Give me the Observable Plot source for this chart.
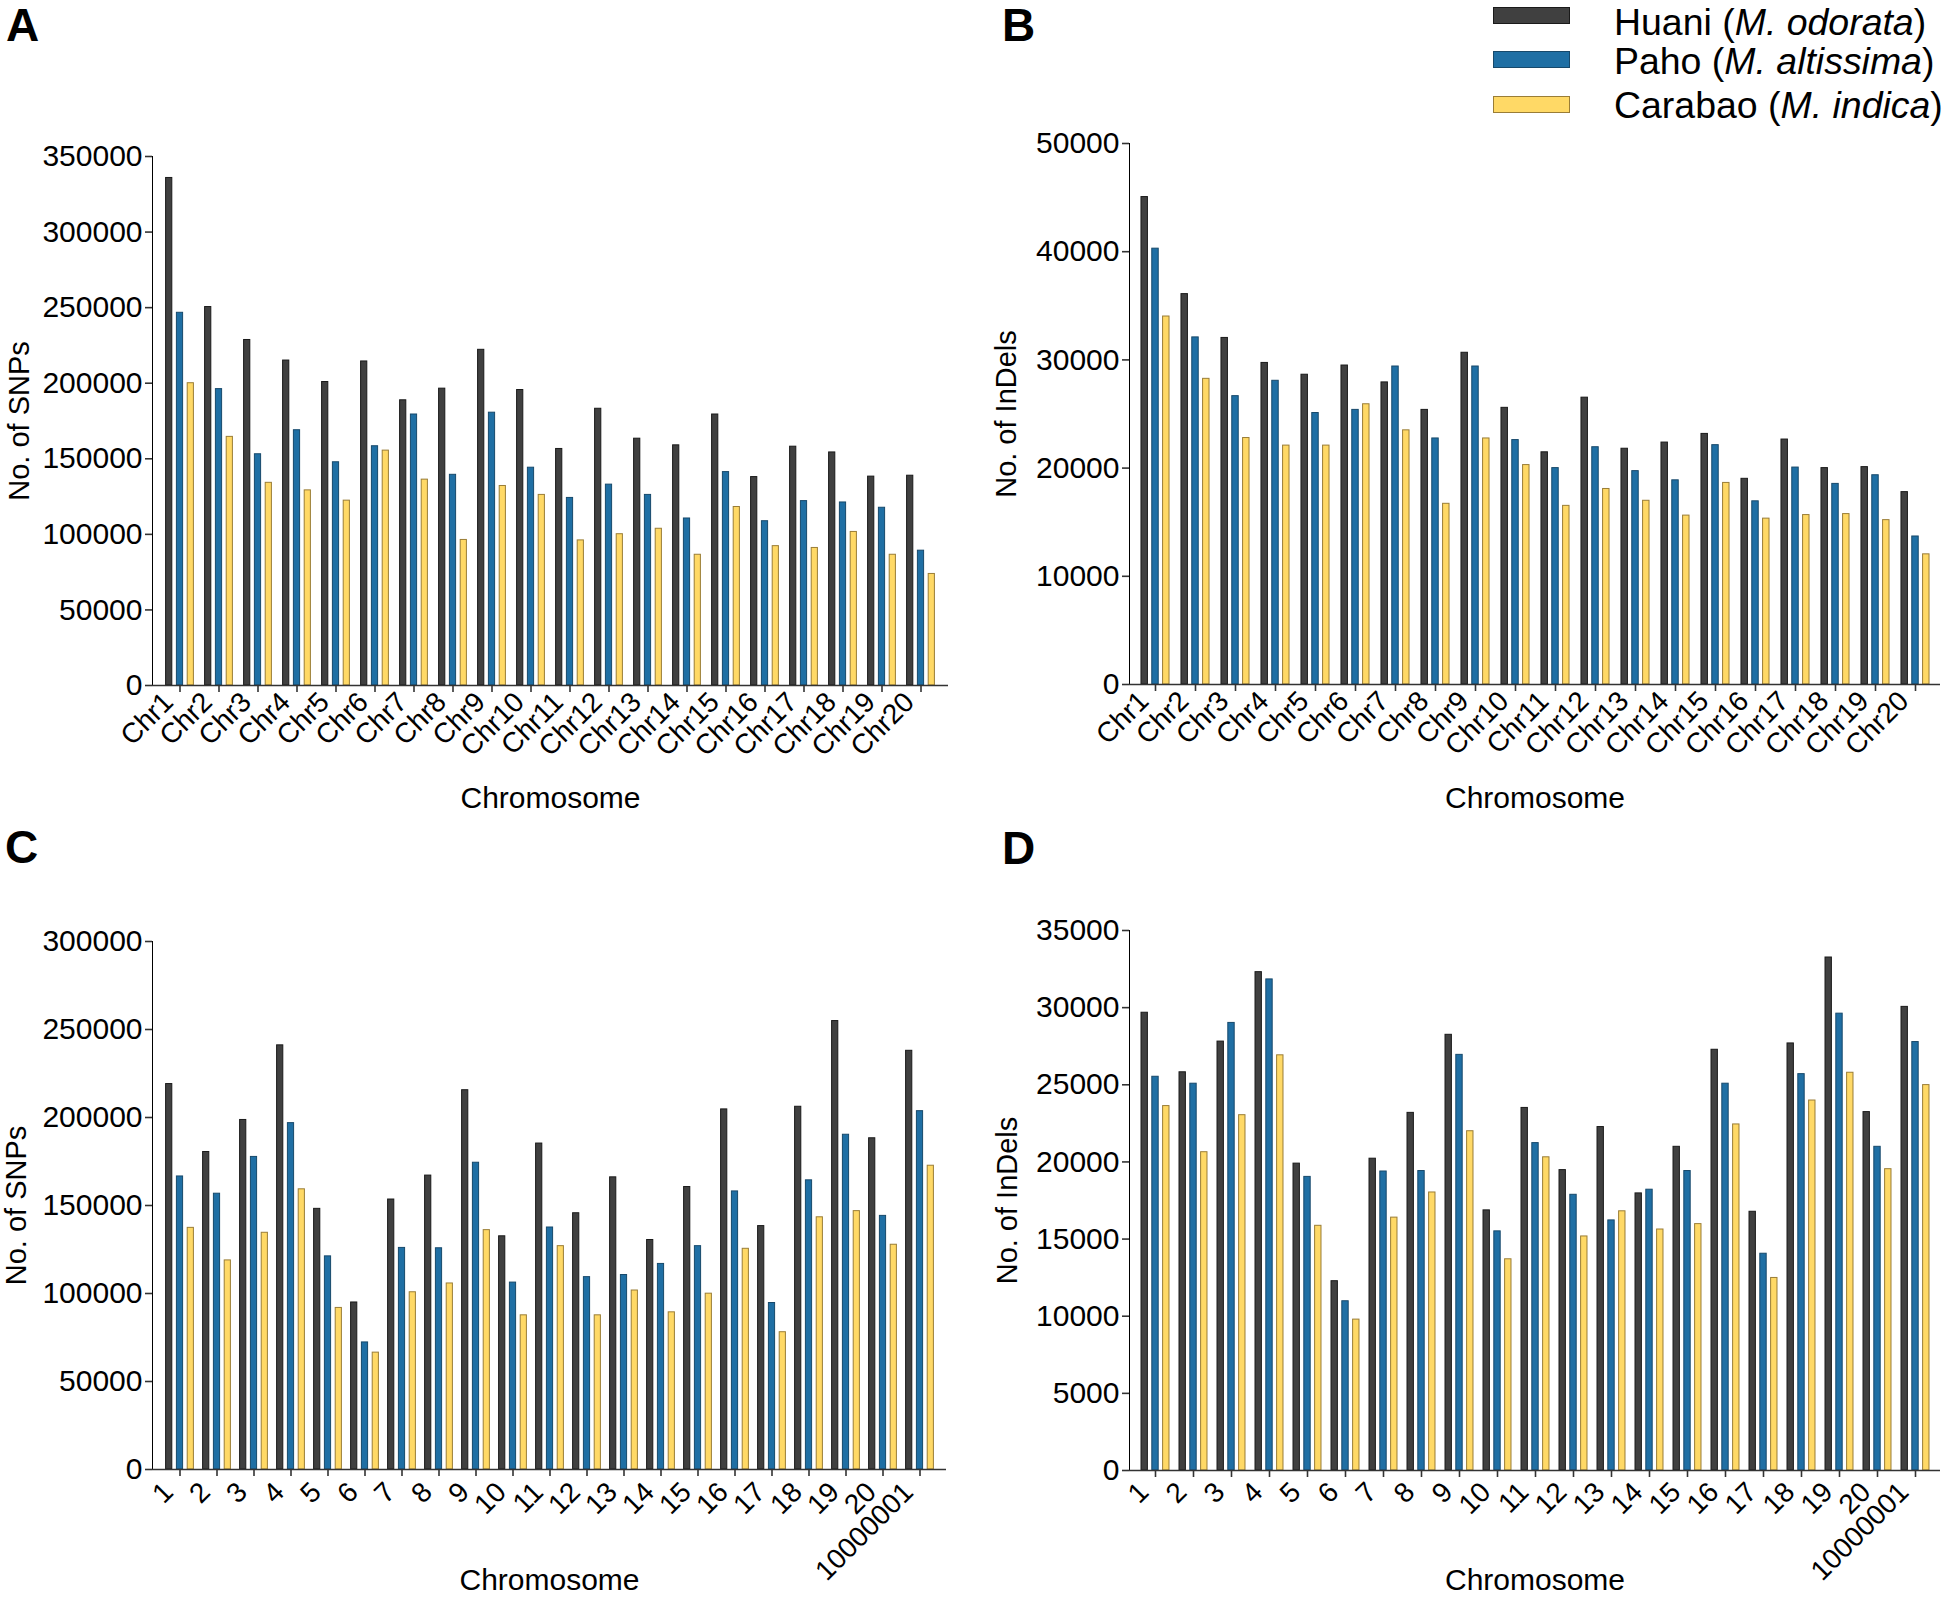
<!DOCTYPE html>
<html>
<head>
<meta charset="utf-8">
<script src="https://cdn.jsdelivr.net/npm/d3@7"></script>
<script src="https://cdn.jsdelivr.net/npm/@observablehq/plot@0.6"></script>
<style>
  html, body { margin: 0; padding: 0; background: #fff; }
  #page { position: relative; width: 1944px; height: 1597px; background: #fff; overflow: hidden;
          font-family: "Liberation Sans", Arial, Helvetica, sans-serif; color: #000; }
  .panel { position: absolute; }
  .letter { position: absolute; font-weight: bold; font-size: 46px; line-height: 1; }
  .lg-swatch { position: absolute; width: 75px; height: 15px; border: 1.5px solid; }
  .lg-text { position: absolute; font-size: 36px; line-height: 1.2; white-space: nowrap;
             transform: scaleX(1.04); transform-origin: left center; }
  .panel svg g[aria-label$="axis tick"] { stroke: #333; stroke-width: 1.6px; }
  .panel svg g[aria-label="frame"] { stroke: #333; stroke-width: 1.6px; }
  .panel svg g[aria-label="y-axis label"] text { font-size: 29px; }
</style>
</head>
<body>
<div id="page"></div>
<script>
// ---------- data ----------
const chrAB = ["Chr1","Chr2","Chr3","Chr4","Chr5","Chr6","Chr7","Chr8","Chr9","Chr10",
               "Chr11","Chr12","Chr13","Chr14","Chr15","Chr16","Chr17","Chr18","Chr19","Chr20"];
const chrCD = ["1","2","3","4","5","6","7","8","9","10","11","12","13","14","15","16","17","18","19","20","10000001"];

const series  = ["Huani", "Paho", "Carabao"];
const species = ["M. odorata", "M. altissima", "M. indica"];
const fills   = ["#404040", "#1f6fa4", "#ffd966"];
const strokes = ["#1a1a1a", "#17496b", "#9a7d36"];

// Panel A: SNPs per chromosome
const snpA_huani   = [335800,250400,228600,215000,200800,214400,188700,196400,222100,195500,156500,183100,163300,158900,179300,137900,158000,154200,138200,138800];
const snpA_paho    = [246600,196100,153000,168900,147700,158300,179300,139400,180500,144100,124100,132900,126100,110500,141200,108700,122000,121100,117600,89200];
const snpA_carabao = [200000,164500,134100,129100,122300,155400,136200,96300,132000,126100,96000,100100,103700,86500,118100,92200,91000,101600,86500,73800];

// Panel B: InDels per chromosome
const indelB_huani   = [45050,36080,32030,29720,28630,29480,27920,25380,30660,25570,21460,26510,21790,22360,23160,19010,22640,20000,20090,17780];
const indelB_paho    = [40280,32080,26650,28070,25090,25380,29390,22740,29390,22590,20000,21930,19720,18870,22120,16930,20050,18540,19340,13680];
const indelB_carabao = [34010,28250,22780,22080,22080,25900,23490,16700,22740,20280,16510,18070,16980,15610,18630,15330,15660,15750,15190,12030];

// Panel C: SNPs per chromosome
const snpC_huani   = [219000,180400,198600,241000,148100,94900,153400,167000,215500,132500,185200,145600,166000,130400,160500,204600,138300,206100,254800,188200,237900];
const snpC_paho    = [166500,156700,177600,196800,121100,72200,125900,125700,174300,106200,137500,109300,110500,116800,126900,158000,94600,164300,190200,144100,203600];
const snpC_carabao = [137300,118800,134500,159200,91800,66400,100700,105700,136000,87600,126900,87600,101700,89300,99900,125400,78000,143300,146800,127700,172600];

// Panel D: InDels per chromosome
const indelD_huani   = [29670,25810,27800,32300,19890,12270,20210,23180,28240,16860,23500,19470,22260,17960,20980,27270,16770,27680,33250,23230,30050];
const indelD_paho    = [25520,25070,29010,31830,19030,10970,19380,19410,26940,15500,21220,17870,16210,18200,19410,25070,14050,25690,29610,20980,27770];
const indelD_carabao = [23620,20630,23030,26910,15860,9780,16390,18020,21990,13690,20300,15170,16800,15620,15970,22430,12480,23980,25780,19530,24980];

// Axis ticks
const ticksA = [0,50000,100000,150000,200000,250000,300000,350000];
const ticksB = [0,10000,20000,30000,40000,50000];
const ticksC = [0,50000,100000,150000,200000,250000,300000];
const ticksD = [0,5000,10000,15000,20000,25000,30000,35000];

const xTitle = "Chromosome";

// ---------- drawing ----------
const page = document.getElementById("page");
const axisColor = "#333";

function panel(cfg) {
  const {cats, vals, ticks, yLabel, left, top, width, height, mL, mR, mT, mB, yOff, xOff, lblDy} = cfg;
  const rows = cats.map((c, i) => ({chr: c, v0: vals[0][i], v1: vals[1][i], v2: vals[2][i]}));
  const bw = (width - mL - mR) / cats.length;
  const barW = 7, gap = 10.8;
  const bars = series.map((s, k) => {
    const o = (k - 1) * gap;
    return Plot.barY(rows, {
      x: "chr", y: "v" + k,
      fill: fills[k], stroke: strokes[k], strokeWidth: 1,
      insetLeft: bw / 2 + o - barW / 2,
      insetRight: bw / 2 - o - barW / 2
    });
  });
  const svg = Plot.plot({
    width, height,
    marginLeft: mL, marginRight: mR, marginTop: mT, marginBottom: mB,
    style: {fontFamily: '"Liberation Sans", Arial, Helvetica, sans-serif', fontSize: "30px",
            background: "transparent", color: "#000", overflow: "visible"},
    x: {domain: cats, padding: 0},
    y: {domain: [0, ticks[ticks.length - 1]], ticks: ticks, tickFormat: d => String(d),
        tickSize: 7, tickPadding: 3, line: true,
        label: yLabel, labelAnchor: "center", labelOffset: yOff, labelArrow: "none"},
    marks: [
      ...bars,
      Plot.ruleY([0], {stroke: axisColor, strokeWidth: 1.6}),
      // tick marks only
      Plot.axisX({tickSize: 7, fill: "none", stroke: axisColor, strokeWidth: 1.6, label: null}),
      // rotated tick labels only
      Plot.axisX({tickSize: 0, tickPadding: 10, tickRotate: -45, fontSize: 28, dx: -11.5, dy: lblDy, label: null}),
      // axis title only
      Plot.axisX({tickSize: 0, ticks: [], label: xTitle, labelAnchor: "center", labelOffset: xOff, labelArrow: "none"})
    ]
  });
  const div = document.createElement("div");
  div.className = "panel";
  div.style.left = left + "px";
  div.style.top = top + "px";
  div.appendChild(svg);
  page.appendChild(div);
}

panel({cats: chrAB, vals: [snpA_huani, snpA_paho, snpA_carabao], ticks: ticksA, yLabel: "No. of SNPs",
       left: 0, top: 100, width: 960, height: 720, mL: 152, mR: 12, mT: 56, mB: 135, yOff: 144, xOff: 122, lblDy: 2});
panel({cats: chrAB, vals: [indelB_huani, indelB_paho, indelB_carabao], ticks: ticksB, yLabel: "No. of InDels",
       left: 960, top: 100, width: 984, height: 720, mL: 169, mR: 4, mT: 43, mB: 136, yOff: 134, xOff: 123, lblDy: 2});
panel({cats: chrCD, vals: [snpC_huani, snpC_paho, snpC_carabao], ticks: ticksC, yLabel: "No. of SNPs",
       left: 0, top: 880, width: 960, height: 717, mL: 152, mR: 14, mT: 61, mB: 128, yOff: 147, xOff: 120, lblDy: 8});
panel({cats: chrCD, vals: [indelD_huani, indelD_paho, indelD_carabao], ticks: ticksD, yLabel: "No. of InDels",
       left: 960, top: 880, width: 984, height: 717, mL: 169, mR: 4, mT: 50, mB: 127, yOff: 133, xOff: 119, lblDy: 7});

// panel letters
const letters = [["A", 6, 2], ["B", 1002, 2], ["C", 5, 824], ["D", 1002, 825]];
for (const [t, x, y] of letters) {
  const d = document.createElement("div");
  d.className = "letter";
  d.textContent = t;
  d.style.left = x + "px";
  d.style.top = y + "px";
  page.appendChild(d);
}

// legend (line-height 1.2 => baseline ~ top + 34.2px at 36px)
const lgTop = [7, 51.3, 95.6];
const lgTextTop = [0.5, 40, 84.3];
series.forEach((s, k) => {
  const sw = document.createElement("div");
  sw.className = "lg-swatch";
  sw.style.left = "1493px";
  sw.style.top = lgTop[k] + "px";
  sw.style.background = fills[k];
  sw.style.borderColor = strokes[k];
  page.appendChild(sw);
  const tx = document.createElement("div");
  tx.className = "lg-text";
  tx.style.left = "1614px";
  tx.style.top = lgTextTop[k] + "px";
  tx.append(s + " (");
  const it = document.createElement("i");
  it.textContent = species[k];
  tx.append(it);
  tx.append(")");
  page.appendChild(tx);
});
</script>
</body>
</html>
